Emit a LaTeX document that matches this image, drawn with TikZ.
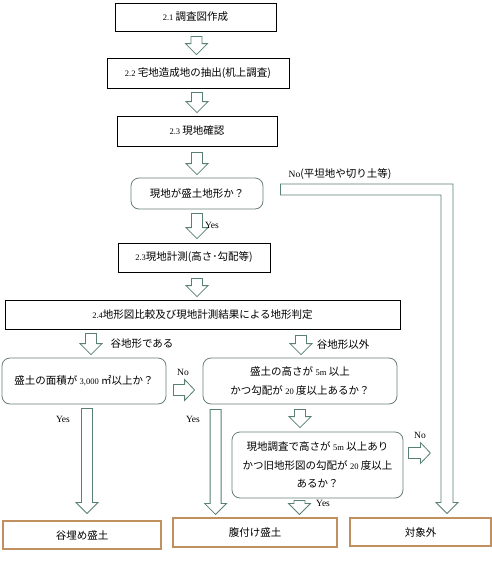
\documentclass[tikz,border=0pt]{standalone}
\usepackage{fontspec}
\setmainfont{Liberation Serif}
\newfontfamily\jp{Noto Sans CJK JP}
\usetikzlibrary{calc}
\definecolor{arrowc}{RGB}{88,128,116}
\definecolor{decc}{RGB}{105,128,120}
\definecolor{endc}{RGB}{192,144,96}
\newcommand\latn[1]{{\rmfamily\fontsize{8.5}{10}\selectfont #1}}
\tikzset{
  jtext/.style={font=\jp\fontsize{10.5}{18.5}\selectfont},
  stepbox/.style={jtext, draw=black, line width=0.8pt, fill=white, inner sep=0pt, align=center},
  decbox/.style={jtext, draw=decc, line width=0.8pt, fill=white, rounded corners=8pt, inner sep=0pt, align=center},
  endbox/.style={jtext, draw=endc, line width=1.1pt, fill=white, inner sep=0pt, align=center},
  lbl/.style={jtext, inner sep=0pt},
  latlbl/.style={font=\rmfamily\fontsize{9.5}{10}\selectfont, inner sep=0pt},
  bdown/.style={draw=arrowc, fill=white, line width=0.8pt, line join=miter,
    to path={let \p1=(\tikztostart), \p2=(\tikztotarget) in
      (\x1-5.5pt,\y1) -- (\x1-5.5pt,\y2+11pt) -- (\x1-11pt,\y2+11pt) -- (\x1,\y2)
      -- (\x1+11pt,\y2+11pt) -- (\x1+5.5pt,\y2+11pt) -- (\x1+5.5pt,\y1) -- cycle}},
  bright/.style={draw=arrowc, fill=white, line width=0.8pt, line join=miter,
    to path={let \p1=(\tikztostart), \p2=(\tikztotarget) in
      (\x1,\y1+5.5pt) -- (\x2-10pt,\y1+5.5pt) -- (\x2-10pt,\y1+10.5pt) -- (\x2,\y1)
      -- (\x2-10pt,\y1-10.5pt) -- (\x2-10pt,\y1-5.5pt) -- (\x1,\y1-5.5pt) -- cycle}},
  barrow/.style={draw=arrowc, fill=white, line width=0.8pt, line join=miter}
}
\begin{document}
\begin{tikzpicture}[x=1pt,y=-1pt]
\useasboundingbox[fill=white] (0,0) rectangle (492,565);

% process boxes
\node[stepbox, minimum width=161pt, minimum height=28pt] (b21) at (195.5,17) {\latn{2.1} 調査図作成};
\node[stepbox, minimum width=182pt, minimum height=30pt] (b22) at (198,73) {\latn{2.2} 宅地造成地の抽出(机上調査)};
\node[stepbox, minimum width=160pt, minimum height=30pt] (b23) at (197,131) {\latn{2.3} 現地確認};
\node[decbox, minimum width=132pt, minimum height=31pt] (dec1) at (197,193.5) {現地が盛土地形か？};
\node[stepbox, minimum width=152pt, minimum height=29pt] (b23b) at (194,257.5) {\latn{2.3}現地計測(高さ･勾配等)};
\node[stepbox, minimum width=395pt, minimum height=29pt] (b24) at (202.5,314.5) {\latn{2.4}地形図比較及び現地計測結果による地形判定};

% decisions
\node[decbox, minimum width=164pt, minimum height=46pt] (dec2) at (84,381) {盛土の面積が \latn{3,000} ㎡以上か？};
\node[decbox, minimum width=194pt, minimum height=46pt] (dec3) at (300,381) {盛土の高さが \latn{5m} 以上\\かつ勾配が \latn{20} 度以上あるか？};
\node[decbox, minimum width=171pt, minimum height=66pt] (dec4) at (317.5,465) {現地調査で高さが \latn{5m} 以上あり\\かつ旧地形図の勾配が \latn{20} 度以上\\あるか？};

% end boxes
\node[endbox, minimum width=158pt, minimum height=28pt] (e1) at (82,535) {谷埋め盛土};
\node[endbox, minimum width=164pt, minimum height=29pt] (e2) at (255,532.5) {腹付け盛土};
\node[endbox, minimum width=141pt, minimum height=28pt] (e3) at (420.5,532) {対象外};

% vertical block arrows
\draw[bdown] ($(b21.south)+(1,5)$) to ($(b22.north)+(0,-3)$);
\draw[bdown] ($(b22.south)+(-1,4)$) to ($(b23.north)+(0,-3)$);
\draw[bdown] ($(b23.south)+(0,6)$) to ($(dec1.north)+(0,-3)$);
\draw[bdown] ($(dec1.south)+(0,4)$) to ($(b23b.north)+(0,-4)$);
\draw[bdown] ($(b23b.south)+(3,6)$) to ($(b24.north)+(0,-3)$);
\draw[bdown] ($(b24.south -| dec2.north)+(7,4)$) to ($(dec2.north)+(7,-3)$);
\draw[bdown] ($(b24.south -| dec3.north)+(1,6)$) to ($(dec3.north)+(1,-3)$);
\draw[bdown] ($(dec2.south)+(3,4)$) to ($(dec2.south |- e1.north)+(3,-7)$);
\draw[bdown] ($(dec3.south west)+(13,5)$) to ($(dec3.south west |- e2.north)+(13,-3)$);
\draw[bdown] ($(dec3.south)+(0,5)$) to ($(dec4.north)+(0,-4)$);
\draw[bdown] ($(dec4.south)+(-18,2)$) to ($(dec4.south |- e2.north)+(-18,-3)$);

% horizontal block arrows
\draw[bright] ($(dec2.east)+(7,9)$) to ($(dec3.west)+(-8,9)$);
\coordinate (nR) at ($(dec4.east)+(27,-12)$);
\draw[bright] ($(dec4.east)+(5,-12)$) to (nR);

% L-shaped No arrow from dec1 to e3
\coordinate (nS) at ($(dec1.east)+(17,-9.5)$);
\coordinate (nT) at ($(e3.north)+(26.5,-4)$);
\draw[barrow] let \p1=(nS), \p2=(nT) in
  (\p1) -- (\x2+6pt,\y1) -- (\x2+6pt,\y2+11pt) -- (\x2+11pt,\y2+11pt) -- (\p2)
  -- (\x2-11pt,\y2+11pt) -- (\x2-6pt,\y2+11pt) -- (\x2-6pt,\y1-11pt) -- (\x1,\y1-11pt) -- cycle;

% labels
\node[latlbl] (l1) at (212,225) {Yes};
\node[lbl] (l2) at (340,174) {{\rmfamily\fontsize{9.5}{10}\selectfont No}(平坦地や切り土等)};
\node[lbl] (l3) at (142,344) {谷地形である};
\node[lbl] (l4) at (343,345) {谷地形以外};
\node[latlbl] (l5) at (183,372) {No};
\node[latlbl] (l6) at (63,419) {Yes};
\node[latlbl] (l7) at (193,419) {Yes};
\node[latlbl] (l8) at (420,435) {No};
\node[latlbl] (l9) at (323,503) {Yes};
\end{tikzpicture}
\end{document}
